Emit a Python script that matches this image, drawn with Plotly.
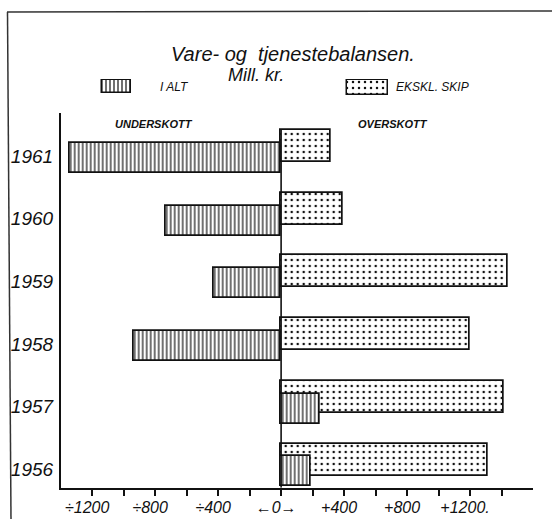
import plotly.graph_objects as go

# ---- data ----
years = [1956, 1957, 1958, 1959, 1960, 1961]
ialt = [186, 248, -938, -430, -732, -1344]          # I ALT
ekskl_skip = [1312, 1411, 1200, 1439, 389, 317]     # EKSKL. SKIP
x_tickvals = [-1200, -1000, -800, -600, -400, -200, 0, 200, 400, 600, 800, 1000, 1200, 1400]
x_ticktext = ["÷1200", "", "÷800", "", "÷400", "", "←0→", "", "+400", "", "+800", "", "+1200.", ""]
year_labels = [str(y) for y in years]
legend_val = [1]

W, H = 552, 519
FONT = "Liberation Sans"
BLACK = "#111111"


def px(x):
    return x / W


def py(y):
    return 1 - y / H


hatch = dict(shape="|", size=4, solidity=0.3, fgcolor=BLACK, bgcolor="white", fillmode="replace")
dots = dict(shape=".", size=6, solidity=0.14, fgcolor=BLACK, bgcolor="white", fillmode="replace")

fig = go.Figure()

# main bars (dotted first, hatched on top)
fig.add_trace(go.Bar(
    y=years, x=ekskl_skip, orientation="h", width=0.51, offset=-0.096,
    marker=dict(color="white", pattern=dots, line=dict(color=BLACK, width=1.7)),
    name="EKSKL. SKIP", showlegend=False, xaxis="x", yaxis="y",
))
fig.add_trace(go.Bar(
    y=years, x=ialt, orientation="h", width=0.478, offset=-0.27,
    marker=dict(color="white", pattern=hatch, line=dict(color=BLACK, width=1.7)),
    name="I ALT", showlegend=False, xaxis="x", yaxis="y",
))

# legend swatches on small helper axes
fig.add_trace(go.Bar(
    y=[0.5], x=legend_val, orientation="h", width=1, base=0,
    marker=dict(color="white", pattern=hatch, line=dict(color=BLACK, width=1.5)),
    showlegend=False, xaxis="x2", yaxis="y2", hoverinfo="skip",
))
fig.add_trace(go.Bar(
    y=[0.5], x=legend_val, orientation="h", width=1, base=0,
    marker=dict(color="white", pattern=dots, line=dict(color=BLACK, width=1.5)),
    showlegend=False, xaxis="x3", yaxis="y3", hoverinfo="skip",
))

y_lo, y_hi = 1955.71, 1961.686
zero_top = max(years) - 0.096 + 0.51

aux = dict(visible=False, range=[-0.06, 1.06], fixedrange=True)

fig.update_layout(
    width=W, height=H,
    margin=dict(l=0, r=0, t=0, b=0),
    paper_bgcolor="white", plot_bgcolor="white",
    barmode="overlay",
    bargap=0,
    xaxis=dict(
        domain=[px(60.7), px(533)], range=[-1400, 1600],
        showgrid=False, zeroline=False,
        showline=True, linecolor=BLACK, linewidth=1.6,
        ticks="outside", ticklen=6, tickwidth=1.5, tickcolor=BLACK,
        tickvals=x_tickvals, ticktext=x_ticktext,
        tickfont=dict(family=FONT, size=16, color=BLACK, style="italic"),
        ticklabelshift=-5,
        ticklabelstandoff=-2,
        anchor="y",
    ),
    yaxis=dict(
        domain=[py(487.7), py(113)], range=[y_lo, y_hi],
        showgrid=False, zeroline=False,
        showline=True, linecolor=BLACK, linewidth=1.6,
        ticks="", tickvals=years, ticktext=year_labels,
        tickfont=dict(family=FONT, size=19, color=BLACK, style="italic"),
        ticklabelstandoff=2,
        anchor="x",
    ),
    xaxis2=dict(domain=[px(100), px(133)], anchor="y2", **aux),
    yaxis2=dict(domain=[py(94), py(79)], anchor="x2", **aux),
    xaxis3=dict(domain=[px(344), px(391)], anchor="y3", **aux),
    yaxis3=dict(domain=[py(96), py(79)], anchor="x3", **aux),
    showlegend=False,
)

# zero line
fig.add_shape(type="line", xref="x", yref="y", x0=0, x1=0, y0=y_lo, y1=zero_top,
              line=dict(color=BLACK, width=1.6))

# outer frame (scanned page border: top and left)
fig.add_shape(type="line", xref="paper", yref="paper", x0=px(7), x1=1, y0=py(12), y1=py(11),
              line=dict(color="#333333", width=1.5))
fig.add_shape(type="line", xref="paper", yref="paper", x0=px(7.5), x1=px(11), y0=py(12), y1=0,
              line=dict(color="#333333", width=1.5))


def label(text, x, y, size, weight="normal"):
    fig.add_annotation(text=text, xref="paper", yref="paper", x=px(x), y=py(y),
                       xanchor="center", yanchor="middle", showarrow=False,
                       font=dict(family=FONT, size=size, color=BLACK, style="italic",
                                 weight=weight))


label("Vare- og  tjenestebalansen.", 292.5, 54, 20)
label("Mill. kr.", 256, 75, 18)
label("I ALT", 174.5, 87, 12)
label("EKSKL. SKIP", 432.5, 87.5, 12)
label("UNDERSKOTT", 154, 124, 11, "bold")
label("OVERSKOTT", 392.5, 124, 11, "bold")

fig.write_html(
    "out.html",
    config={"displayModeBar": False},
    post_script="document.body.style.margin='0px';document.body.style.overflow='hidden';",
)
